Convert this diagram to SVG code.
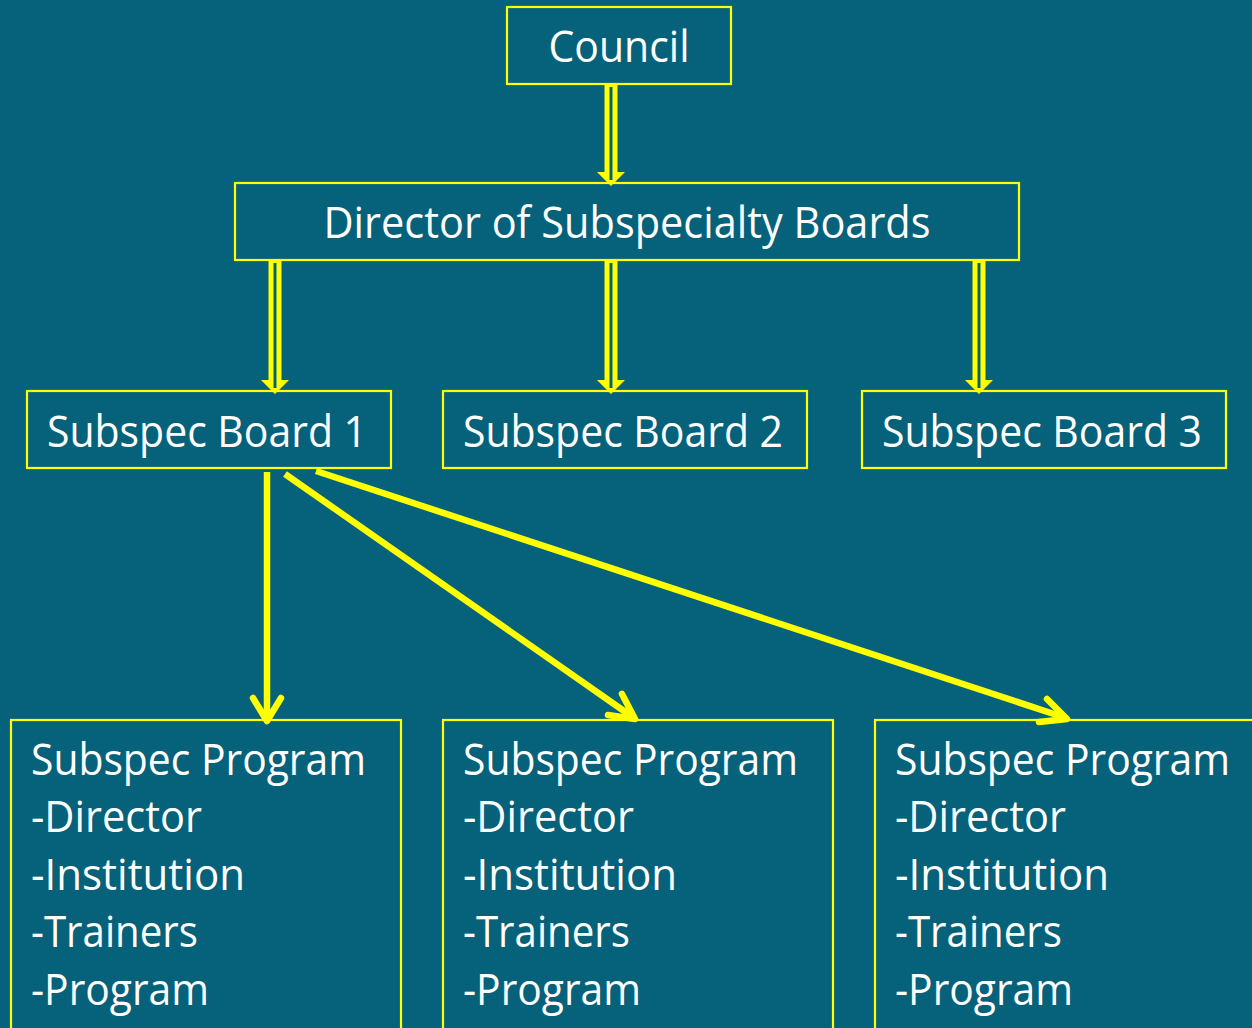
<svg xmlns="http://www.w3.org/2000/svg" width="1252" height="1028" viewBox="0 0 1252 1028">
<defs>
<style>
.box{fill:none;stroke:#FFFF00;stroke-width:2.2}
.t{font-family:"Open Sans","Noto Sans",sans-serif;font-size:43px;fill:#FFFFFF}
.c{text-anchor:middle}
.dbl{fill:#FFFF00}
.gap{stroke:#05627A;stroke-width:3;fill:none}
.ln{stroke:#FFFF00;stroke-width:6.5;fill:none}
.hd{stroke:#FFFF00;stroke-width:6.5;fill:none;stroke-linecap:round;stroke-linejoin:round}
</style>
</defs>
<rect width="1252" height="1028" fill="#05627A"/>
<g id="council"><rect class="box" x="507" y="7" width="224" height="77"/><text class="t c" x="619" y="62" textLength="141" lengthAdjust="spacingAndGlyphs">Council</text></g>
<g id="director"><rect class="box" x="235" y="183" width="784" height="77"/><text class="t c" x="627" y="238" textLength="607" lengthAdjust="spacingAndGlyphs">Director of Subspecialty Boards</text></g>
<g id="board1"><rect class="box" x="27" y="391" width="364" height="77"/><text class="t c" x="207" y="447" textLength="320" lengthAdjust="spacingAndGlyphs">Subspec Board 1</text></g>
<g id="board2"><rect class="box" x="443" y="391" width="364" height="77"/><text class="t c" x="623" y="447" textLength="320" lengthAdjust="spacingAndGlyphs">Subspec Board 2</text></g>
<g id="board3"><rect class="box" x="862" y="391" width="364" height="77"/><text class="t c" x="1042" y="447" textLength="320" lengthAdjust="spacingAndGlyphs">Subspec Board 3</text></g>
<g id="program1"><rect class="box" x="11" y="720" width="390" height="330"/>
<text class="t" x="31" y="775" textLength="335" lengthAdjust="spacingAndGlyphs">Subspec Program</text>
<text class="t" x="31" y="832" textLength="171" lengthAdjust="spacingAndGlyphs">-Director</text>
<text class="t" x="31" y="890" textLength="214" lengthAdjust="spacingAndGlyphs">-Institution</text>
<text class="t" x="31" y="947" textLength="167" lengthAdjust="spacingAndGlyphs">-Trainers</text>
<text class="t" x="31" y="1005" textLength="178" lengthAdjust="spacingAndGlyphs">-Program</text></g>
<g id="program2"><rect class="box" x="443" y="720" width="390" height="330"/>
<text class="t" x="463" y="775" textLength="335" lengthAdjust="spacingAndGlyphs">Subspec Program</text>
<text class="t" x="463" y="832" textLength="171" lengthAdjust="spacingAndGlyphs">-Director</text>
<text class="t" x="463" y="890" textLength="214" lengthAdjust="spacingAndGlyphs">-Institution</text>
<text class="t" x="463" y="947" textLength="167" lengthAdjust="spacingAndGlyphs">-Trainers</text>
<text class="t" x="463" y="1005" textLength="178" lengthAdjust="spacingAndGlyphs">-Program</text></g>
<g id="program3"><rect class="box" x="875" y="720" width="390" height="330"/>
<text class="t" x="895" y="775" textLength="335" lengthAdjust="spacingAndGlyphs">Subspec Program</text>
<text class="t" x="895" y="832" textLength="171" lengthAdjust="spacingAndGlyphs">-Director</text>
<text class="t" x="895" y="890" textLength="214" lengthAdjust="spacingAndGlyphs">-Institution</text>
<text class="t" x="895" y="947" textLength="167" lengthAdjust="spacingAndGlyphs">-Trainers</text>
<text class="t" x="895" y="1005" textLength="178" lengthAdjust="spacingAndGlyphs">-Program</text></g>
<g id="connectors">
<path class="dbl" d="M604.5,85 H617.5 V172 H625 L611,186 L597,172 H604.5 Z"/>
<path class="gap" d="M611,87 V180"/>
<path class="dbl" d="M268.5,261 H281.5 V380 H289 L275,394 L261,380 H268.5 Z"/>
<path class="gap" d="M275,263 V388"/>
<path class="dbl" d="M604.5,261 H617.5 V380 H625 L611,394 L597,380 H604.5 Z"/>
<path class="gap" d="M611,263 V388"/>
<path class="dbl" d="M972.5,261 H985.5 V380 H993 L979,394 L965,380 H972.5 Z"/>
<path class="gap" d="M979,263 V388"/>
<path class="ln" d="M267,472 V721"/>
<path class="hd" d="M253,698 L267,721 L281,698"/>
<path class="ln" d="M285,474 L634,718"/>
<path class="hd" d="M622,694 L635,719 L608,715"/>
<path class="ln" d="M316,471 L1066,718"/>
<path class="hd" d="M1047,699 L1067,719 L1039,722"/>
</g>
</svg>
